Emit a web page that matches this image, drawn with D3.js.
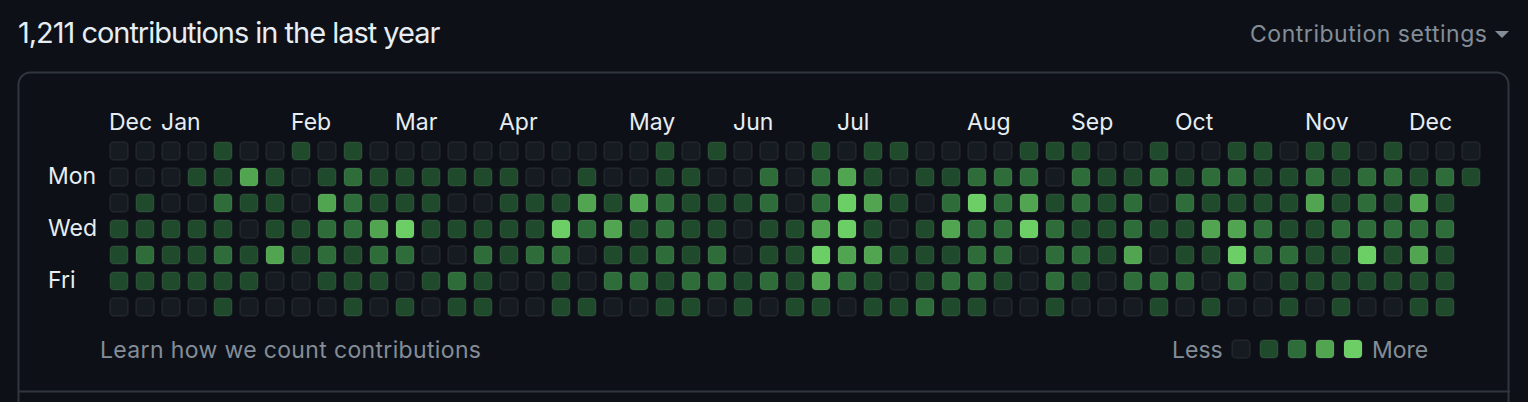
<!DOCTYPE html>
<html>
<head>
<meta charset="utf-8">
<script src="https://cdn.jsdelivr.net/npm/d3@7"></script>
<style>
  html, body { margin: 0; padding: 0; background: #0d1117; }
  svg { display: block; }
  text { font-family: Inter, "Noto Sans", sans-serif; }
</style>
</head>
<body>
<svg id="chart" width="1528" height="402"></svg>
<script>
// ---- data (contribution level 0-4 per weekday, one entry per week column) ----
const sun = [0,0,0,0,1,0,0,1,0,1,0,0,0, 0,0,0,0,0,0,0,0,1,0,1,0,0, 0,1,0,1,1,0,0,0,0,1,1,1, 0,0,1,0,0,1,1,0,1,1,0,1,0,0,0];
const mon = [0,0,0,1,1,3,1,0,1,2,1,1,1, 1,1,1,0,0,1,0,0,1,1,0,0,2, 0,2,3,1,0,1,1,2,2,2,0,2, 1,1,2,1,2,2,1,1,2,1,2,2,1,2,1];
const tue = [0,1,0,0,2,1,1,0,3,2,1,1,1, 0,0,1,1,1,3,1,3,2,1,1,1,2, 0,2,4,3,1,0,2,4,2,3,1,2, 1,2,0,2,1,1,1,1,3,1,2,1,3,1];
const wed = [1,1,1,1,1,0,1,1,2,2,3,4,1, 1,1,1,1,4,2,3,1,2,1,1,0,1, 1,3,4,1,0,1,3,2,2,4,2,1, 1,2,1,1,3,3,2,1,1,2,2,2,2,2];
const thu = [1,2,1,1,2,1,3,1,2,1,2,2,0, 0,2,1,2,2,0,1,1,2,1,2,0,1, 1,4,3,3,1,1,1,2,2,0,2,2, 1,3,0,1,1,4,2,2,1,1,4,1,3,1];
const fri = [1,1,1,1,1,1,0,0,1,1,1,0,1, 2,1,0,0,1,0,2,2,1,2,2,1,2, 1,3,2,1,0,1,2,2,1,0,2,1, 0,2,2,2,0,2,0,1,1,1,1,1,1,1];
const sat = [0,0,0,0,1,0,0,0,0,1,0,1,0, 1,1,0,0,1,1,0,0,1,1,0,1,0, 1,1,0,1,1,2,1,1,0,0,1,0, 0,0,1,0,1,0,0,1,0,1,0,0,1,1];

const days = [sun, mon, tue, wed, thu, fri, sat];
const dayLabels = ["", "Mon", "", "Wed", "", "Fri", ""];
const monthLabels = ["Dec","Jan","Feb","Mar","Apr","May","Jun","Jul","Aug","Sep","Oct","Nov","Dec"];
const monthWeeks  = [0, 2, 7, 11, 15, 20, 24, 28, 33, 37, 41, 46, 50];
const levels = [0, 1, 2, 3, 4];
const legendLevels = [0, 1, 2, 3, 4];
const title = "1,211 contributions in the last year";

// ---- drawing ----
const svg = d3.select("#chart");
const nWeeks = 53;

const x = d3.scaleBand().domain(d3.range(nWeeks)).range([109, 109 + 26 * nWeeks - 6]).paddingInner(6 / 26);
const y = d3.scaleBand().domain(d3.range(7)).range([141, 141 + 26 * 7 - 6]).paddingInner(6 / 26);
const color = d3.scaleOrdinal().domain(levels)
  .range(["#161b22", "#1f4a2c", "#2e6c39", "#51a550", "#6ccf66"]);

const textMain = "#e6edf3";
const textMuted = "#848d97";

// outer box
svg.append("rect")
  .attr("x", 18.5).attr("y", 72.5)
  .attr("width", 1490).attr("height", 400)
  .attr("rx", 12)
  .attr("fill", "none").attr("stroke", "#30363d").attr("stroke-width", 2);
svg.append("line")
  .attr("x1", 18).attr("x2", 1510).attr("y1", 391.5).attr("y2", 391.5)
  .attr("stroke", "#30363d").attr("stroke-width", 2);

// title
svg.append("text")
  .attr("x", 18).attr("y", 43)
  .attr("fill", textMain).attr("font-size", 29)
  .attr("letter-spacing", -0.3)
  .attr("textLength", 422).attr("lengthAdjust", "spacing")
  .text(title);

// settings
svg.append("text")
  .attr("x", 1250).attr("y", 42)
  .attr("fill", textMuted).attr("font-size", 23)
  .attr("textLength", 237).attr("lengthAdjust", "spacing")
  .text("Contribution settings");
svg.append("path")
  .attr("d", "M1495,31 L1509,31 L1502,38 Z")
  .attr("fill", textMuted);

// month labels
svg.append("g").selectAll("text")
  .data(monthLabels)
  .join("text")
  .attr("x", (d, i) => x(monthWeeks[i]))
  .attr("y", 130)
  .attr("fill", textMain).attr("font-size", 23)
  .text(d => d);

// day labels
svg.append("g").selectAll("text")
  .data(dayLabels)
  .join("text")
  .attr("x", 48)
  .attr("y", (d, i) => y(i) + y.bandwidth() / 2 + 7)
  .attr("fill", textMain).attr("font-size", 23)
  .text(d => d);

// cells
const cells = [];
days.forEach((arr, di) => arr.forEach((v, wi) => cells.push({ week: wi, day: di, level: v })));

svg.append("g").selectAll("rect")
  .data(cells)
  .join("rect")
  .attr("x", d => x(d.week) + 1)
  .attr("y", d => y(d.day) + 1)
  .attr("width", x.bandwidth() - 2)
  .attr("height", y.bandwidth() - 2)
  .attr("rx", 4)
  .attr("fill", d => color(d.level))
  .attr("stroke", "rgba(255,255,255,0.05)")
  .attr("stroke-width", 2);

// footer
svg.append("text")
  .attr("x", 100).attr("y", 358)
  .attr("fill", textMuted).attr("font-size", 23)
  .attr("textLength", 381).attr("lengthAdjust", "spacing")
  .text("Learn how we count contributions");

svg.append("text")
  .attr("x", 1172).attr("y", 358)
  .attr("fill", textMuted).attr("font-size", 23)
  .text("Less");

const lx = d3.scaleBand().domain(legendLevels).range([1231, 1231 + 28 * 5 - 8]).paddingInner(8 / 28);
svg.append("g").selectAll("rect")
  .data(legendLevels)
  .join("rect")
  .attr("x", d => lx(d) + 1).attr("y", 340)
  .attr("width", lx.bandwidth() - 2).attr("height", 18)
  .attr("rx", 4)
  .attr("fill", d => color(d))
  .attr("stroke", "rgba(255,255,255,0.05)")
  .attr("stroke-width", 2);

svg.append("text")
  .attr("x", 1372).attr("y", 358)
  .attr("fill", textMuted).attr("font-size", 23)
  .text("More");
</script>
</body>
</html>
